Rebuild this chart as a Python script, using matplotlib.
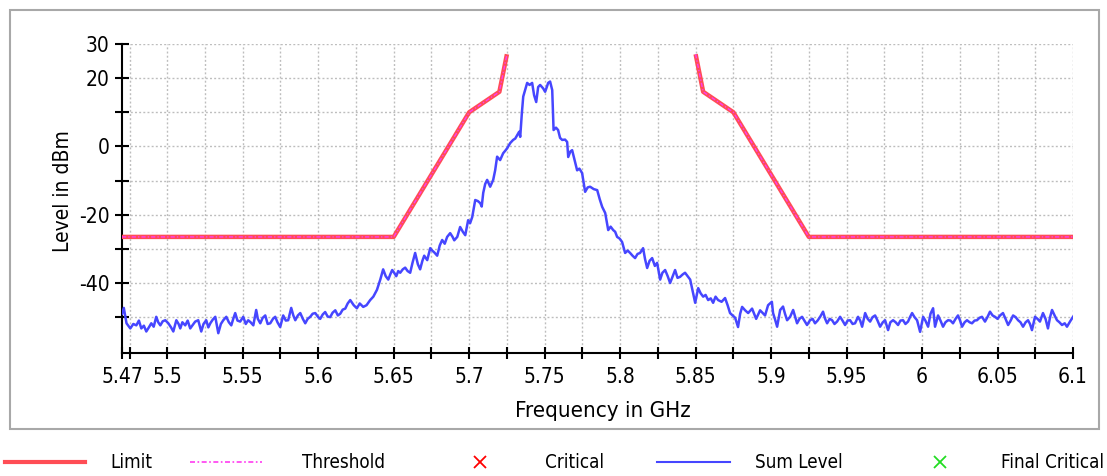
import matplotlib
matplotlib.use('Agg')
import matplotlib.pyplot as plt
from matplotlib.lines import Line2D
from matplotlib.patches import Rectangle

plt.rcParams['font.family'] = ['DejaVu Sans']
plt.rcParams['font.stretch'] = 'condensed'

# spectrum trace (GHz, dBm)
floor_left = [
    (5.4700, -49.0), (5.4712, -47.3), (5.4730, -51.8), (5.4755, -53.3), (5.4775, -52.0),
    (5.4795, -52.4), (5.4812, -51.0), (5.4828, -53.3), (5.4845, -52.5), (5.4861, -54.2),
    (5.4878, -53.0), (5.4894, -51.8), (5.4910, -52.8), (5.4927, -49.9), (5.4940, -51.5),
    (5.4954, -52.4), (5.4970, -51.2), (5.4987, -50.9), (5.5007, -51.8), (5.5025, -53.0),
    (5.5040, -54.2), (5.5060, -50.9), (5.5075, -52.0), (5.5086, -53.3), (5.5100, -51.5),
    (5.5119, -52.4), (5.5135, -51.0), (5.5152, -53.3), (5.5170, -52.2), (5.5185, -51.3),
    (5.5205, -50.9), (5.5225, -54.2), (5.5240, -52.0), (5.5258, -50.9), (5.5272, -53.0),
    (5.5285, -51.8), (5.5300, -50.8), (5.5318, -49.9), (5.5338, -54.7), (5.5355, -52.0),
    (5.5371, -50.9), (5.5391, -49.9), (5.5408, -51.5), (5.5424, -52.4), (5.5437, -50.5),
    (5.5450, -48.8), (5.5465, -51.0), (5.5483, -51.3), (5.5503, -49.9), (5.5520, -52.0),
    (5.5536, -50.9), (5.5552, -51.5), (5.5570, -52.4), (5.5589, -47.9), (5.5600, -50.5),
    (5.5616, -51.8), (5.5632, -50.2), (5.5649, -49.5), (5.5665, -52.0), (5.5682, -51.8),
    (5.5700, -50.5), (5.5715, -49.9), (5.5730, -51.5), (5.5748, -52.9), (5.5768, -49.5),
    (5.5785, -51.0), (5.5801, -50.9), (5.5821, -47.3), (5.5835, -49.5), (5.5848, -50.9),
    (5.5865, -49.5), (5.5881, -48.8), (5.5898, -50.5), (5.5914, -51.8), (5.5930, -50.5),
    (5.5947, -49.9), (5.5963, -49.0), (5.5980, -48.8), (5.6000, -50.0), (5.6013, -50.5),
    (5.6030, -49.2), (5.6046, -48.5), (5.6062, -49.8), (5.6079, -50.0), (5.6095, -48.7),
    (5.6113, -48.0), (5.6130, -49.5), (5.6146, -49.0), (5.6162, -47.8), (5.6179, -47.5),
]
rising = [
    (5.6195, -46.0), (5.6212, -45.0), (5.6235, -46.5), (5.6256, -47.4), (5.6275, -46.0),
    (5.6298, -47.0), (5.6320, -46.5), (5.6344, -45.0), (5.6365, -44.0), (5.6389, -42.0),
    (5.6400, -40.5), (5.6411, -39.0), (5.6430, -36.0), (5.6447, -38.0), (5.6464, -39.0),
    (5.6477, -37.5), (5.6490, -36.2), (5.6503, -37.0), (5.6517, -38.0), (5.6530, -36.5),
    (5.6543, -37.0), (5.6560, -36.0), (5.6576, -35.5), (5.6592, -36.5), (5.6609, -37.0),
    (5.6625, -34.0), (5.6642, -31.2), (5.6660, -34.5), (5.6675, -36.0), (5.6690, -33.5),
    (5.6702, -32.0), (5.6722, -33.3), (5.6742, -29.8), (5.6755, -30.5), (5.6768, -31.0),
    (5.6788, -32.0), (5.6805, -29.0), (5.6821, -27.4), (5.6838, -28.5), (5.6854, -26.5),
    (5.6874, -25.4), (5.6890, -26.5), (5.6901, -27.5), (5.6921, -26.5), (5.6940, -23.6),
    (5.6958, -25.0), (5.6974, -26.0), (5.6993, -21.6), (5.7006, -22.5), (5.7020, -20.7),
    (5.7040, -15.7), (5.7057, -16.0), (5.7073, -16.6), (5.7083, -17.6), (5.7093, -13.6),
    (5.7106, -11.0), (5.7119, -9.8), (5.7139, -11.8), (5.7159, -9.8), (5.7172, -7.0),
    (5.7185, -3.0), (5.7205, -4.0), (5.7225, -2.0), (5.7240, -1.2), (5.7252, -0.5),
    (5.7272, 1.0), (5.7291, 1.9), (5.7305, 2.3), (5.7318, 3.3), (5.7331, 4.3),
]
peak = [
    (5.7338, 2.8), (5.7349, 9.8), (5.7358, 14.6), (5.7370, 16.5), (5.7384, 18.6),
    (5.7400, 18.0), (5.7417, 18.6), (5.7430, 15.0), (5.7444, 13.0), (5.7457, 17.4),
    (5.7470, 18.0), (5.7490, 17.0), (5.7503, 16.0), (5.7515, 17.5), (5.7523, 18.6),
    (5.7536, 19.0), (5.7550, 16.5),
]
falling = [
    (5.7559, 4.8), (5.7575, 5.5), (5.7589, 4.8), (5.7602, 2.5), (5.7616, 1.9),
    (5.7635, 2.0), (5.7649, 1.3), (5.7656, -3.1), (5.7670, -1.5), (5.7682, -1.1),
    (5.7698, -4.0), (5.7715, -7.0), (5.7730, -6.5), (5.7748, -7.8), (5.7768, -13.3),
    (5.7785, -12.0), (5.7801, -11.8), (5.7825, -12.5), (5.7848, -12.8), (5.7865, -15.5),
    (5.7881, -17.7), (5.7901, -19.5), (5.7921, -24.5), (5.7937, -23.5), (5.7954, -24.5),
    (5.7967, -25.0), (5.7980, -26.5), (5.7997, -27.0), (5.8013, -28.0), (5.8033, -31.2),
    (5.8050, -30.5), (5.8066, -31.2), (5.8082, -32.0), (5.8099, -32.7), (5.8115, -31.5),
    (5.8132, -31.2), (5.8152, -29.8), (5.8165, -33.0), (5.8179, -35.6), (5.8195, -33.5),
    (5.8212, -32.7), (5.8230, -35.0), (5.8245, -34.1), (5.8265, -39.0), (5.8280, -37.0),
    (5.8298, -36.2), (5.8315, -38.0), (5.8331, -40.0), (5.8348, -38.0), (5.8364, -36.2),
    (5.8380, -38.5), (5.8397, -38.2), (5.8414, -37.5), (5.8430, -37.0), (5.8447, -38.0),
    (5.8464, -39.0), (5.8483, -42.9), (5.8497, -45.8), (5.8517, -41.5), (5.8533, -43.0),
    (5.8550, -44.0), (5.8566, -43.5), (5.8583, -45.0), (5.8600, -44.5), (5.8616, -45.8),
    (5.8632, -44.0), (5.8649, -45.0), (5.8672, -45.5), (5.8695, -44.4), (5.8712, -46.5),
    (5.8728, -48.8), (5.8745, -49.5), (5.8762, -50.2), (5.8781, -52.9), (5.8795, -49.0),
    (5.8808, -47.0), (5.8828, -48.0), (5.8848, -48.8), (5.8874, -47.5), (5.8901, -50.5),
    (5.8927, -48.0), (5.8960, -49.5), (5.8980, -46.5), (5.9005, -45.5),
]
floor_right = [
    (5.9013, -48.8), (5.9025, -50.5), (5.9040, -52.8), (5.9060, -47.9), (5.9079, -46.9),
    (5.9092, -49.0), (5.9106, -50.9), (5.9126, -49.9), (5.9146, -47.9), (5.9160, -50.0),
    (5.9172, -51.8), (5.9188, -50.5), (5.9205, -49.9), (5.9220, -51.0), (5.9238, -52.3),
    (5.9258, -50.9), (5.9275, -50.5), (5.9291, -51.8), (5.9308, -51.0), (5.9325, -49.9),
    (5.9344, -48.4), (5.9358, -50.5), (5.9371, -51.8), (5.9388, -50.5), (5.9404, -50.9),
    (5.9420, -52.0), (5.9437, -51.3), (5.9457, -49.9), (5.9473, -51.0), (5.9490, -52.3),
    (5.9507, -51.0), (5.9523, -50.9), (5.9540, -52.0), (5.9556, -51.8), (5.9576, -49.9),
    (5.9590, -51.0), (5.9603, -52.8), (5.9623, -48.8), (5.9640, -50.5), (5.9656, -51.3),
    (5.9672, -50.0), (5.9689, -49.5), (5.9705, -51.0), (5.9722, -52.8), (5.9740, -51.5),
    (5.9755, -50.9), (5.9775, -53.8), (5.9790, -51.5), (5.9808, -50.9), (5.9825, -51.5),
    (5.9841, -52.3), (5.9857, -51.0), (5.9874, -50.9), (5.9890, -52.0), (5.9907, -51.3),
    (5.9920, -50.0), (5.9934, -48.8), (5.9950, -50.0), (5.9967, -50.9), (5.9987, -54.3),
    (6.0007, -49.9), (6.0022, -51.0), (6.0040, -52.8), (6.0056, -49.0), (6.0073, -47.4),
    (6.0086, -52.8), (6.0106, -49.5), (6.0122, -51.0), (6.0139, -52.8), (6.0155, -51.5),
    (6.0172, -50.9), (6.0188, -51.0), (6.0205, -51.8), (6.0222, -50.5), (6.0238, -49.5),
    (6.0252, -51.0), (6.0265, -52.8), (6.0282, -51.5), (6.0298, -50.9), (6.0315, -51.5),
    (6.0331, -51.8), (6.0348, -51.0), (6.0364, -50.9), (6.0380, -50.2), (6.0397, -49.9),
    (6.0417, -51.3), (6.0433, -50.0), (6.0450, -48.4), (6.0467, -49.5), (6.0483, -49.9),
    (6.0500, -50.5), (6.0517, -49.5), (6.0536, -48.8), (6.0553, -50.5), (6.0570, -52.3),
    (6.0587, -51.0), (6.0603, -49.5), (6.0620, -50.0), (6.0636, -50.9), (6.0652, -51.5),
    (6.0669, -52.8), (6.0686, -51.5), (6.0702, -50.9), (6.0715, -52.0), (6.0728, -53.8),
    (6.0748, -49.9), (6.0765, -50.5), (6.0781, -51.3), (6.0801, -48.8), (6.0818, -50.5),
    (6.0834, -53.3), (6.0848, -50.0), (6.0861, -47.9), (6.0878, -49.5), (6.0894, -50.9),
    (6.0910, -51.5), (6.0927, -52.3), (6.0945, -51.8), (6.0960, -52.8), (6.0980, -51.3),
    (6.1000, -49.9),
]

# spectrum mask (two branches)
limit_left_f = [5.47, 5.65, 5.70, 5.72, 5.725]
limit_left_db = [-26.5, -26.5, 10, 16, 27]
limit_right_f = [5.85, 5.855, 5.875, 5.925, 6.10]
limit_right_db = [27, 16, 10, -26.5, -26.5]

xticks = [5.47, 5.475, 5.5, 5.525, 5.55, 5.575, 5.6, 5.625, 5.65, 5.675, 5.7, 5.725,
          5.75, 5.775, 5.8, 5.825, 5.85, 5.875, 5.9, 5.925, 5.95, 5.975, 6.0, 6.025,
          6.05, 6.075, 6.1]
xlabels = ['5.47', '', '5.5', '', '5.55', '', '5.6', '', '5.65', '', '5.7', '', '5.75',
           '', '5.8', '', '5.85', '', '5.9', '', '5.95', '', '6', '', '6.05', '', '6.1']
yticks = [30, 20, 10, 0, -10, -20, -30, -40, -50]
ylabels = ['30', '20', '', '0', '', '-20', '', '-40', '']

BLUE = '#4646ff'
RED = '#ff4d55'
MAGENTA = '#ff3cf0'

fig = plt.figure(figsize=(11.07, 4.76), dpi=100)
ax = fig.add_axes([0.1102, 0.2584, 0.8591, 0.6492])

trace = floor_left + rising + peak + falling + floor_right
ax.plot([p[0] for p in trace], [p[1] for p in trace], color=BLUE, lw=1.8, zorder=3)

for fx, ly in ((limit_left_f, limit_left_db), (limit_right_f, limit_right_db)):
    ax.plot(fx, ly, color=RED, lw=3.2, solid_capstyle='butt', zorder=4)
    ax.plot(fx, ly, color=MAGENTA, lw=1.0, ls=(0, (3, 1.5, 1, 1.5)), zorder=5)

ax.set_xlim(5.47, 6.1)
ax.set_ylim(-60.5, 30)
ax.set_xticks(xticks)
ax.set_xticklabels(xlabels)
ax.set_yticks(yticks)
ax.set_yticklabels(ylabels)

# grid: skip the 5.47 line (it sits on the axis)
for x in xticks[1:]:
    ax.axvline(x, color='#bdbdbd', lw=1, ls=(0, (1.4, 1.6)), zorder=1)
for y in yticks:
    ax.axhline(y, color='#bdbdbd', lw=1, ls=(0, (1.4, 1.6)), zorder=1)

for s in ('top', 'right'):
    ax.spines[s].set_visible(False)
for s in ('left', 'bottom'):
    ax.spines[s].set_linewidth(1.5)
ax.tick_params(axis='x', direction='inout', length=8, width=1.5, pad=6, labelsize=15)
ax.tick_params(axis='y', direction='inout', length=10, width=1.5, pad=4, labelsize=15)

fig.text(603 / 1107, 1 - 411 / 476, 'Frequency in GHz', ha='center', va='center', fontsize=16)
fig.text(63 / 1107, 1 - 191 / 476, 'Level in dBm', ha='center', va='center',
         rotation=90, fontsize=15)

# outer frame
fig.add_artist(Rectangle((10 / 1107, 1 - 429 / 476), 1089 / 1107, 419 / 476,
                         transform=fig.transFigure, fill=False, edgecolor='#a8a8a8', lw=1.5))

# legend row below the frame
ly = 1 - 462 / 476
def fx(px):
    return px / 1107

fig.add_artist(Line2D([fx(5), fx(85)], [ly, ly], color=RED, lw=3, transform=fig.transFigure))
fig.add_artist(Line2D([fx(190), fx(262)], [ly, ly], color=MAGENTA, lw=1.2,
                      ls=(0, (3, 1.5, 1, 1.5)), transform=fig.transFigure))
fig.add_artist(Line2D([fx(480)], [ly], color='red', marker='x', ms=9, mew=1.3, ls='none',
                      transform=fig.transFigure))
fig.add_artist(Line2D([fx(657), fx(730)], [ly, ly], color=BLUE, lw=1.5, transform=fig.transFigure))
fig.add_artist(Line2D([fx(940)], [ly], color='#22dd22', marker='x', ms=9, mew=1.3, ls='none',
                      transform=fig.transFigure))
for px, txt in ((110, 'Limit'), (302, 'Threshold'), (545, 'Critical'),
                (755, 'Sum Level'), (1001, 'Final Critical')):
    fig.text(fx(px), ly, txt, ha='left', va='center', fontsize=13.5)

fig.savefig('out.png', dpi=100)
